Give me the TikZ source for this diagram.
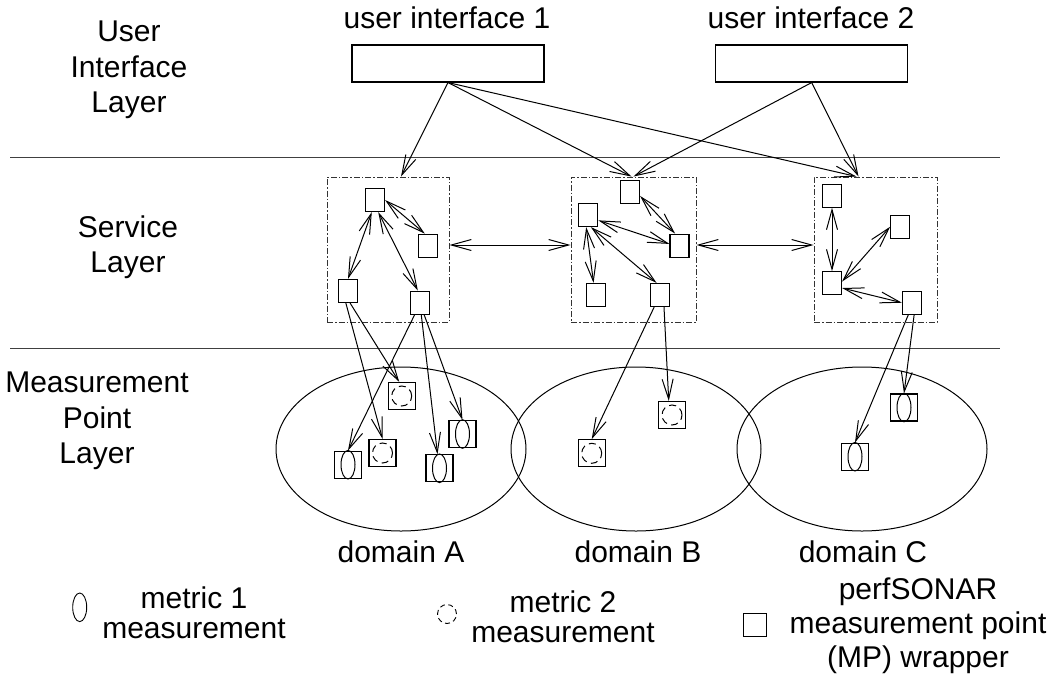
\documentclass[tikz,border=0pt]{standalone}
\usepackage{fontspec}
\setmainfont{Liberation Sans}
\usetikzlibrary{arrows.meta,shapes.geometric}
\tikzset{
  txt/.style={font=\fontsize{30}{35.5}\selectfont, align=center, inner sep=0pt},
  legtxt/.style={font=\fontsize{30}{30.5}\selectfont, align=center, inner sep=0pt},
  uibox/.style={draw, line width=1.1pt, minimum width=192pt, minimum height=37pt, inner sep=0pt},
  group/.style={draw=black!80, line width=0.9pt, dash pattern=on 6pt off 2pt on 1.5pt off 2pt, inner sep=0pt},
  svc/.style={draw, line width=1.2pt, minimum width=19pt, minimum height=23pt, inner sep=0pt},
  mp/.style={draw, line width=1.2pt, minimum size=27pt, inner sep=0pt},
  dombox/.style={draw, ellipse, line width=1pt, minimum width=250pt, minimum height=164pt, inner sep=0pt},
  layerline/.style={draw=black!75, line width=1pt},
  arr/.style={line width=1pt, -{Straight Barb[length=20pt,width=11pt]}},
  darr/.style={line width=1pt, {Straight Barb[length=20pt,width=11pt]}-{Straight Barb[length=20pt,width=11pt]}},
  metA/.style={line width=1pt},
  metB/.style={line width=1pt, dash pattern=on 7pt off 4.5pt},
}
\begin{document}
\begin{tikzpicture}[x=1pt,y=-1pt]
\useasboundingbox (0,0) rectangle (1058,673);

% layer separators
\draw[layerline] (10,157) -- (1000,157);
\draw[layerline] (10,348) -- (1000,348);

% layer names
\node[txt] (lUI)  at (129,70)  {User\\Interface\\Layer};
\node[txt] (lSV)  at (128,247) {Service\\Layer};
\node[txt] (lMP)  at (97,421)  {Measurement\\Point\\Layer};

% user interfaces
\node[txt] (tUI1) at (447,18) {user interface 1};
\node[txt] (tUI2) at (811,18) {user interface 2};
\node[uibox] (ui1) at (448,63.5) {};
\node[uibox] (ui2) at (811.7,63.5) {};

% service groups
\node[group, minimum width=122pt, minimum height=145pt] (sA) at (388,249.5) {};
\node[group, minimum width=125pt, minimum height=145pt] (sB) at (633.5,249.5) {};
\node[group, minimum width=123pt, minimum height=145pt] (sC) at (875.5,249.5) {};

% services in group A
\node[svc] (a1) at (375,200) {};
\node[svc] (a2) at (428,245.7) {};
\node[svc] (a3) at (348,291) {};
\node[svc] (a4) at (420,302.7) {};
% services in group B
\node[svc] (b1) at (630,192.3) {};
\node[svc] (b2) at (588.3,215) {};
\node[svc] (b3) at (679.5,245.7) {};
\node[svc] (b4) at (595.7,295) {};
\node[svc] (b5) at (660.3,295) {};
% services in group C
\node[svc] (c1) at (832,195.7) {};
\node[svc] (c2) at (900.3,226.7) {};
\node[svc] (c3) at (832,283.3) {};
\node[svc] (c4) at (912,302.7) {};

% domains
\node[dombox] (dA) at (401,449) {};
\node[dombox] (dB) at (636,449) {};
\node[dombox] (dC) at (862,449) {};
\node[txt] (tdA) at (401,552) {domain A};
\node[txt] (tdB) at (638,552) {domain B};
\node[txt] (tdC) at (863,552) {domain C};

% measurement points
\node[mp] (mA1) at (401.7,396) {};
\node[mp] (mA2) at (462.5,434) {};
\node[mp] (mA3) at (382.5,453) {};
\node[mp] (mA4) at (348,464.7) {};
\node[mp] (mA5) at (439.5,468.3) {};
\node[mp] (mB1) at (591.7,453.3) {};
\node[mp] (mB2) at (672,415) {};
\node[mp] (mC1) at (904,407.5) {};
\node[mp] (mC2) at (855,456.7) {};
\draw[metB] (mA1.center) circle [radius=10pt];
\draw[metA] (mA2.center) ellipse [x radius=7pt, y radius=14.3pt];
\draw[metB] (mA3.center) circle [radius=10pt];
\draw[metA] (mA4.center) ellipse [x radius=7pt, y radius=14.3pt];
\draw[metA] (mA5.center) ellipse [x radius=7pt, y radius=14.3pt];
\draw[metB] (mB1.center) circle [radius=10pt];
\draw[metB] (mB2.center) circle [radius=10pt];
\draw[metA] (mC1.center) ellipse [x radius=7pt, y radius=14.3pt];
\draw[metA] (mC2.center) ellipse [x radius=7pt, y radius=14.3pt];

% user interfaces to service groups
\draw[arr] (ui1.south) -- ([xshift=13pt]sA.north);
\draw[arr] (ui1.south) -- ([xshift=-2pt]sB.north);
\draw[arr] (ui1.south) -- ([xshift=-19pt]sC.north);
\draw[arr] (ui2.south) -- ([xshift=0pt]sB.north);
\draw[arr] (ui2.south) -- ([xshift=-17pt]sC.north);

% between service groups
\draw[darr] ([yshift=4.5pt]sA.east) -- ([yshift=4.5pt]sB.west);
\draw[darr] ([yshift=4.5pt]sB.east) -- ([yshift=4.5pt]sC.west);

% inside group A
\draw[darr] (a1.east) -- (a2.105);
\draw[darr] (a1.-105) -- (a3.north);
\draw[darr] (a1.-75) -- (a4.100);
% inside group B
\draw[darr] (b1.-20) -- (b3.110);
\draw[darr] (b2.-28) -- (b3.170);
\draw[darr] (b2.-100) -- (b4.100);
\draw[darr] (b2.-78) -- (b5.107);
% inside group C
\draw[darr] (c1.south) -- (c3.north);
\draw[darr] (c3.10) -- (c2.west);
\draw[darr] (c3.-25) -- (c4.west);

% services to measurement points
\draw[arr] (a3.-100) -- (mA3.north);
\draw[arr] (a3.-80) -- (mA1.100);
\draw[arr] (a4.-114) -- (mA4.north);
\draw[arr] (a4.-84) -- (mA5.98);
\draw[arr] (a4.-71) -- (mA2.north);
\draw[arr] (b5.-117) -- (mB1.north);
\draw[arr] (b5.-73) -- (mB2.103);
\draw[arr] (c4.-107) -- (mC2.north);
\draw[arr] (c4.-80) -- (mC1.north);

% legend
\draw[line width=0.9pt] (79.7,607.3) ellipse [x radius=7pt, y radius=14.3pt];
\node[legtxt] (lg1) at (194,613) {metric 1\\measurement};
\draw[line width=0.9pt, dash pattern=on 5pt off 3.5pt] (447,614) circle [radius=9.5pt];
\node[legtxt] (lg2) at (563,617) {metric 2\\measurement};
\node[draw, line width=1pt, minimum width=23pt, minimum height=23pt, inner sep=0pt] (lgsq) at (754.5,625) {};
\node[font=\fontsize{30}{34}\selectfont, align=center, inner sep=0pt] (lg3) at (918,626) {perfSONAR\\measurement point\\(MP) wrapper};
\end{tikzpicture}
\end{document}
